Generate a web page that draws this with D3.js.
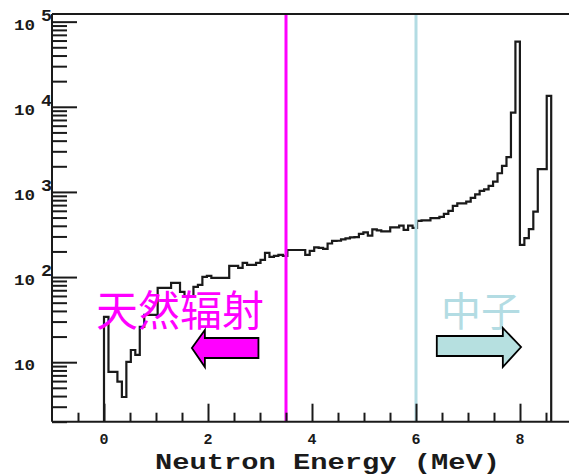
<!DOCTYPE html>
<html>
<head>
<meta charset="utf-8">
<script src="https://cdn.jsdelivr.net/npm/d3@7"></script>
<style>
  html, body { margin: 0; padding: 0; background: #fff; }
  svg { display: block; }
</style>
</head>
<body>
<svg id="chart" width="569" height="474"></svg>
<script>
// Neutron energy spectrum: 100 equal bins from 0 to 8.6 MeV (counts per bin)
const binLow = 0;
const binHigh = 8.6;
const counts = [
  34, 7.7, 7.7, 5.9, 3.9, 10.1, 13.9, 12.2, 26, 35.9,
  35.9, 35.9, 74.6, 74.6, 74.6, 85.4, 85.4, 66.9, 58.5, 58.5,
  76.6, 80.9, 100.5, 103, 97.7, 97.7, 97.7, 97.7, 135, 135,
  128, 147, 139, 139, 147, 159, 192, 173, 177, 182,
  177, 208, 208, 208, 208, 182, 203, 223, 220, 214,
  248, 266, 267, 277, 284, 292, 294, 321, 334, 306,
  363, 353, 344, 344, 383, 383, 402, 358, 402, 378,
  456, 462, 462, 491, 491, 508, 552, 598, 685, 733,
  735, 769, 851, 935, 1028, 1070, 1176, 1321, 1658, 2019,
  2557, 8540, 58200, 239, 286, 365, 587, 1849, 1849, 13400
];

// Axis layout
const xDomain = [-1, 9];
const yDomain = [2, 1.23e5];
const xMajorTicks = [0, 2, 4, 6, 8];
const yDecades = [1, 2, 3, 4, 5];

// Marker energies (MeV)
const markers = [
  { energy: 3.5, color: "#ff00ff" },
  { energy: 6.0, color: "#b3dce3" }
];

const svg = d3.select("#chart");
const plotL = 52, plotR = 572, plotT = 14, plotB = 421.7;

const x = d3.scaleLinear().domain(xDomain).range([plotL, plotR]);
const y = d3.scaleLog().domain(yDomain).range([plotB, plotT]);

const axisFont = "'Liberation Mono', 'DejaVu Sans Mono', monospace";

// --- histogram ---
const nBins = counts.length;
const binW = (binHigh - binLow) / nBins;
const pts = [[x(binLow), plotB]];
counts.forEach((c, i) => {
  const e0 = binLow + i * binW, e1 = binLow + (i + 1) * binW;
  pts.push([x(e0), y(c)], [x(e1), y(c)]);
});
pts.push([x(binHigh), plotB]);

svg.append("path")
  .attr("d", d3.line()(pts))
  .attr("fill", "none")
  .attr("stroke", "#1a1a1a")
  .attr("stroke-width", 2.2)
  .attr("stroke-linejoin", "miter");

// --- marker lines ---
svg.selectAll("line.marker").data(markers).enter().append("line")
  .attr("class", "marker")
  .attr("x1", d => x(d.energy)).attr("x2", d => x(d.energy))
  .attr("y1", plotT).attr("y2", plotB)
  .attr("stroke", d => d.color)
  .attr("stroke-width", 3);

// --- frame / axes lines ---
const frame = svg.append("g").attr("stroke", "#1a1a1a").attr("stroke-width", 2);
frame.append("line").attr("x1", plotL).attr("x2", plotR).attr("y1", plotT).attr("y2", plotT);
frame.append("line").attr("x1", plotL).attr("x2", plotL).attr("y1", plotT).attr("y2", plotB);
frame.append("line").attr("x1", plotL).attr("x2", plotR).attr("y1", plotB).attr("y2", plotB);

// --- bottom axis ticks (pointing up) ---
const xAxis = d3.axisBottom(x)
  .tickValues(d3.range(-0.5, 9, 0.5))
  .tickSize(0)
  .tickFormat("");
const gx = svg.append("g").attr("transform", `translate(0,${plotB})`).call(xAxis);
gx.select(".domain").remove();
gx.selectAll(".tick line")
  .attr("y2", d => xMajorTicks.includes(d) ? -18 : -9)
  .attr("stroke", "#1a1a1a")
  .attr("stroke-width", 2);

svg.append("g").selectAll("text").data(xMajorTicks).enter().append("text")
  .attr("x", d => x(d))
  .attr("y", 444)
  .attr("text-anchor", "middle")
  .attr("font-family", axisFont)
  .attr("font-weight", "bold")
  .attr("font-size", 15)
  .attr("fill", "#1a1a1a")
  .text(d => d);

// --- left axis ticks (pointing right) ---
const minorY = [];
[0, 1, 2, 3, 4, 5].forEach(p => {
  for (let m = 1; m <= 9; m++) {
    const v = m * Math.pow(10, p);
    if (v >= yDomain[0] && v <= yDomain[1]) minorY.push(v);
  }
});
const isDecade = v => Math.abs(Math.log10(v) - Math.round(Math.log10(v))) < 1e-9;
const yAxis = d3.axisLeft(y).tickValues(minorY).tickSize(0).tickFormat("");
const gy = svg.append("g").attr("transform", `translate(${plotL},0)`).call(yAxis);
gy.select(".domain").remove();
gy.selectAll(".tick line")
  .attr("x2", d => isDecade(d) ? 25 : 15)
  .attr("stroke", "#1a1a1a")
  .attr("stroke-width", 2);

// decade labels: "10" with raised exponent (plain "10" for the first decade)
const yl = svg.append("g")
  .attr("font-family", axisFont)
  .attr("font-weight", "bold")
  .attr("fill", "#1a1a1a");
yDecades.forEach(p => {
  const ty = y(Math.pow(10, p));
  yl.append("text")
    .attr("x", 14).attr("y", ty + 8)
    .attr("font-size", 15)
    .attr("textLength", 21)
    .attr("lengthAdjust", "spacingAndGlyphs")
    .text("10");
  if (p > 1) {
    yl.append("text")
      .attr("x", 41).attr("y", ty - 1)
      .attr("font-size", 16)
      .attr("textLength", 11)
      .attr("lengthAdjust", "spacingAndGlyphs")
      .text(p);
  }
});

// --- axis title ---
svg.append("text")
  .attr("x", 155).attr("y", 468.5)
  .attr("font-family", axisFont)
  .attr("font-weight", "bold")
  .attr("font-size", 22.5)
  .attr("textLength", 345)
  .attr("lengthAdjust", "spacingAndGlyphs")
  .attr("fill", "#1a1a1a")
  .text("Neutron Energy (MeV)");

// --- annotations ---
const cjkFont = "'Noto Sans CJK SC', 'Noto Sans CJK JP', sans-serif";
svg.append("text")
  .attr("x", 96).attr("y", 326)
  .attr("font-family", cjkFont)
  .attr("font-weight", 400)
  .attr("font-size", 42)
  .attr("fill", "#ff00ff")
  .text("天然辐射");

svg.append("text")
  .attr("x", 441).attr("y", 326)
  .attr("font-family", cjkFont)
  .attr("font-weight", 400)
  .attr("font-size", 40)
  .attr("fill", "#b3dce3")
  .text("中子");

// block arrows, horizontal extent in MeV
function arrow(tail, base, tip, bodyTop, bodyBot, headTop, headBot, mid) {
  return [
    [x(tail), bodyTop], [x(base), bodyTop], [x(base), headTop],
    [x(tip), mid],
    [x(base), headBot], [x(base), bodyBot], [x(tail), bodyBot]
  ];
}
const arrows = [
  { pts: arrow(2.97, 1.94, 1.69, 338, 358, 330, 367, 348), fill: "#ff00ff" },
  { pts: arrow(6.40, 7.67, 8.02, 336, 356, 328, 367, 347), fill: "#b6e0e0" }
];
svg.selectAll("polygon.arrow").data(arrows).enter().append("polygon")
  .attr("class", "arrow")
  .attr("points", d => d.pts.map(p => p.join(",")).join(" "))
  .attr("fill", d => d.fill)
  .attr("stroke", "#000")
  .attr("stroke-width", 1.8)
  .attr("stroke-linejoin", "miter");
</script>
</body>
</html>
